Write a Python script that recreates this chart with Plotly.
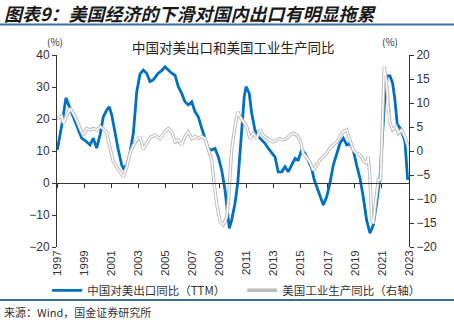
import plotly.graph_objects as go

# ---- data (decimal year, value) ----
cn_years = [1997.02, 1997.35, 1997.66, 1997.96, 1998.2, 1998.45, 1998.82, 1999.19, 1999.44, 1999.68,
            1999.93, 2000.18, 2000.42, 2000.67, 2000.86, 2001.04, 2001.28, 2001.53, 2001.78, 2001.9,
            2002.15, 2002.39, 2002.64, 2002.89, 2003.13, 2003.37, 2003.62, 2003.87, 2004.11, 2004.48,
            2004.73, 2004.98, 2005.22, 2005.47, 2005.72, 2005.96, 2006.21, 2006.45, 2006.7, 2006.95,
            2007.19, 2007.44, 2007.69, 2007.93, 2008.17, 2008.43, 2008.67, 2008.91, 2009.16, 2009.41,
            2009.58, 2009.73, 2009.9, 2010.15, 2010.35, 2010.52, 2010.69, 2010.83, 2010.96, 2011.08,
            2011.2, 2011.38, 2011.62, 2011.87, 2012.12, 2012.36, 2012.61, 2012.86, 2013.1, 2013.34,
            2013.6, 2013.84, 2014.08, 2014.33, 2014.58, 2014.82, 2015.07, 2015.32, 2015.56, 2015.81,
            2016.0, 2016.18, 2016.42, 2016.67, 2016.92, 2017.16, 2017.41, 2017.66, 2017.9, 2018.15,
            2018.4, 2018.64, 2018.88, 2019.13, 2019.38, 2019.62, 2019.87, 2020.12, 2020.36, 2020.61,
            2020.86, 2021.05, 2021.22, 2021.39, 2021.59, 2021.79, 2021.96, 2022.13, 2022.33, 2022.53,
            2022.7, 2022.9]
cn_export = [10.3, 18.0, 26.6, 23.4, 20.7, 17.6, 14.0, 12.9, 11.9, 14.0,
             10.9, 15.0, 20.7, 22.8, 23.8, 21.3, 15.6, 10.3, 5.6, 4.6,
             5.6, 9.4, 15.6, 28.5, 34.0, 35.3, 34.3, 31.7, 32.2, 34.3,
             35.1, 36.3, 35.3, 34.3, 33.7, 30.1, 28.0, 25.4, 24.4, 25.4,
             22.3, 20.7, 17.1, 14.0, 10.8, 10.3, 10.8, 8.2, 4.1, -2.2,
             -8.4, -14.2, -11.6, -6.3, 0.0, 10.3, 20.7, 27.0, 30.1, 29.0,
             28.0, 21.8, 16.6, 14.5, 13.4, 12.4, 10.8, 9.3, 8.2, 3.5,
             3.5, 5.1, 3.5, 5.6, 7.7, 7.2, 10.3, 9.3, 7.2, 4.6,
             1.0, -1.2, -4.3, -6.9, -4.3, 0.0, 5.6, 9.3, 12.4, 14.0,
             11.9, 12.4, 10.3, 5.6, 1.5, -4.3, -11.6, -15.7, -13.1, -6.3,
             2.0, 15.5, 27.0, 33.5, 33.5, 31.2, 26.0, 18.4, 17.2, 15.2,
             13.0, 1.0]

us_years = [1997.02, 1997.35, 1997.47, 1997.72, 1997.96, 1998.2, 1998.45, 1998.7, 1998.94, 1999.19,
            1999.44, 1999.68, 1999.93, 2000.18, 2000.42, 2000.67, 2000.91, 2001.16, 2001.41, 2001.65,
            2001.9, 2002.15, 2002.39, 2002.64, 2002.89, 2003.13, 2003.37, 2003.62, 2003.87, 2004.24,
            2004.61, 2004.98, 2005.22, 2005.47, 2005.72, 2005.96, 2006.21, 2006.45, 2006.7, 2006.95,
            2007.19, 2007.44, 2007.69, 2007.93, 2008.17, 2008.43, 2008.6, 2008.79, 2009.04, 2009.28,
            2009.53, 2009.65, 2009.78, 2009.9, 2010.15, 2010.35, 2010.52, 2010.76, 2011.01, 2011.25,
            2011.5, 2011.75, 2011.99, 2012.24, 2012.49, 2012.73, 2012.98, 2013.23, 2013.47, 2013.71,
            2013.96, 2014.21, 2014.45, 2014.7, 2014.95, 2015.19, 2015.44, 2015.69, 2015.93, 2016.18,
            2016.42, 2016.67, 2016.92, 2017.16, 2017.41, 2017.66, 2017.9, 2018.15, 2018.4, 2018.64,
            2018.88, 2019.13, 2019.38, 2019.62, 2019.87, 2019.99, 2020.12, 2020.24, 2020.36, 2020.49,
            2020.61, 2020.73, 2020.9, 2021.05, 2021.17, 2021.35, 2021.47, 2021.59, 2021.79, 2022.04,
            2022.21, 2022.45, 2022.7, 2022.94]
us_ip = [6.8, 7.2, 5.8, 7.5, 8.9, 7.9, 6.5, 4.7, 3.3, 4.7,
         4.4, 4.7, 4.4, 5.1, 4.7, 3.7, 0.9, -2.2, -3.3, -4.3,
         -5.4, -3.3, -0.5, 1.25, 2.3, 3.0, 0.4, 1.6, 2.8, 3.3,
         2.6, 4.0, 4.7, 4.0, 1.9, 2.3, 1.25, 3.0, 4.0, 2.6,
         3.0, 2.6, 3.0, 2.6, 0.2, -1.9, -6.7, -10.9, -14.7, -15.4,
         -13.7, -11.0, -5.0, 0.2, 5.1, 8.2, 7.1, 6.1, 5.1, 2.6,
         3.7, 2.6, 4.4, 3.3, 2.6, 2.3, 1.9, 2.3, 2.6, 2.3,
         2.6, 3.3, 3.7, 3.3, 2.3, -0.5, -1.5, -2.3, -4.0, -2.9,
         -1.9, -1.2, -0.5, 0.6, 1.25, 1.9, 3.0, 4.0, 4.4, 2.3,
         0.2, -0.5, -0.8, -1.9, -2.6, -1.2, -5.6, -14.4, -15.1, -11.6,
         -8.1, -6.0, -6.0, 7.1, 17.6, 14.1, 8.5, 5.8, 4.4, 5.1,
         3.7, 4.4, 3.0, 0.9]

tick_years = list(range(1997, 2024, 2))
tick_labels = [str(y) for y in tick_years]

name_cn = "中国对美出口同比（TTM）"
name_us = "美国工业生产同比（右轴）"

CJK = "Noto Sans CJK SC"
LAT = "Liberation Sans"
AX = "#333333"

fig = go.Figure()
fig.add_trace(go.Scatter(x=us_years, y=us_ip, yaxis="y2", mode="lines", name=name_us,
                         line=dict(color="#bdbdbd", width=3.4), hoverinfo="skip"))
fig.add_trace(go.Scatter(x=us_years, y=us_ip, yaxis="y2", mode="lines", showlegend=False,
                         line=dict(color="#ffffff", width=1.4), hoverinfo="skip"))
fig.add_trace(go.Scatter(x=cn_years, y=cn_export, mode="lines", name=name_cn,
                         line=dict(color="#0070C0", width=2.8), hoverinfo="skip"))
# carrier trace for the axis drawn on the zero line
fig.add_trace(go.Scatter(x=[None], y=[None], xaxis="x2", showlegend=False, hoverinfo="skip"))

fig.update_layout(
    width=454, height=322,
    margin=dict(l=57, r=45, t=55, b=75),
    paper_bgcolor="white", plot_bgcolor="white",
    font=dict(family=LAT, size=12, color=AX),
    xaxis=dict(range=[1997, 2023], tickmode="array", tickvals=tick_years, ticktext=tick_labels,
               tickangle=-90, showline=False, ticks="", showgrid=False, zeroline=False,
               tickfont=dict(family=LAT, size=11.5, color=AX)),
    xaxis2=dict(overlaying="x", range=[1997, 2023], anchor="free", position=1/3,
                tickmode="array", tickvals=tick_years, showticklabels=False,
                ticks="outside", ticklen=4, tickcolor=AX, showline=True, linecolor=AX,
                linewidth=1, showgrid=False, zeroline=False),
    yaxis=dict(range=[-20, 40], dtick=10, ticks="outside", ticklen=4, tickcolor=AX,
               showline=True, linecolor=AX, showgrid=False, zeroline=False,
               tickfont=dict(family=LAT, size=12, color=AX)),
    yaxis2=dict(range=[-20, 20], dtick=5, overlaying="y", side="right", ticks="outside",
                ticklen=4, tickcolor=AX, showline=True, linecolor=AX, showgrid=False,
                zeroline=False, tickfont=dict(family=LAT, size=12, color=AX)),
    showlegend=True,
    legend=dict(orientation="h", x=-0.028, xanchor="left", y=-0.15, yanchor="top",
                font=dict(family=CJK, size=11.5, color=AX), traceorder="reversed",
                entrywidth=150, entrywidthmode="pixels", bgcolor="rgba(0,0,0,0)"),
    annotations=[
        dict(text="<b><i>图表9：美国经济的下滑对国内出口有明显拖累</i></b>", xref="paper", yref="paper",
             x=-0.156, y=1.219, xanchor="left", yanchor="middle", showarrow=False,
             font=dict(family=CJK, size=18, color="#1a1a1a")),
        dict(text="中国对美出口和美国工业生产同比", xref="paper", yref="paper", x=0.5, y=1.042,
             xanchor="center", yanchor="middle", showarrow=False,
             font=dict(family=CJK, size=13.5, color="#222222")),
        dict(text="(%)", xref="paper", yref="paper", x=-0.006, y=1.068, xanchor="center",
             yanchor="middle", showarrow=False, font=dict(family=CJK, size=10, color=AX)),
        dict(text="(%)", xref="paper", yref="paper", x=0.946, y=1.068, xanchor="center",
             yanchor="middle", showarrow=False, font=dict(family=CJK, size=10, color=AX)),
        dict(text="来源：Wind，国金证券研究所", xref="paper", yref="paper", x=-0.156, y=-0.339,
             xanchor="left", yanchor="middle", showarrow=False,
             font=dict(family=CJK, size=11, color=AX)),
    ],
    shapes=[
        dict(type="line", xref="paper", yref="paper", x0=-0.162, x1=1.128, y0=1.159, y1=1.159,
             line=dict(color="#3d6e99", width=2)),
        dict(type="line", xref="paper", yref="paper", x0=-0.162, x1=1.128, y0=-0.276, y1=-0.276,
             line=dict(color="#3d6e99", width=2)),
    ],
)

fig.write_html("out.html")
